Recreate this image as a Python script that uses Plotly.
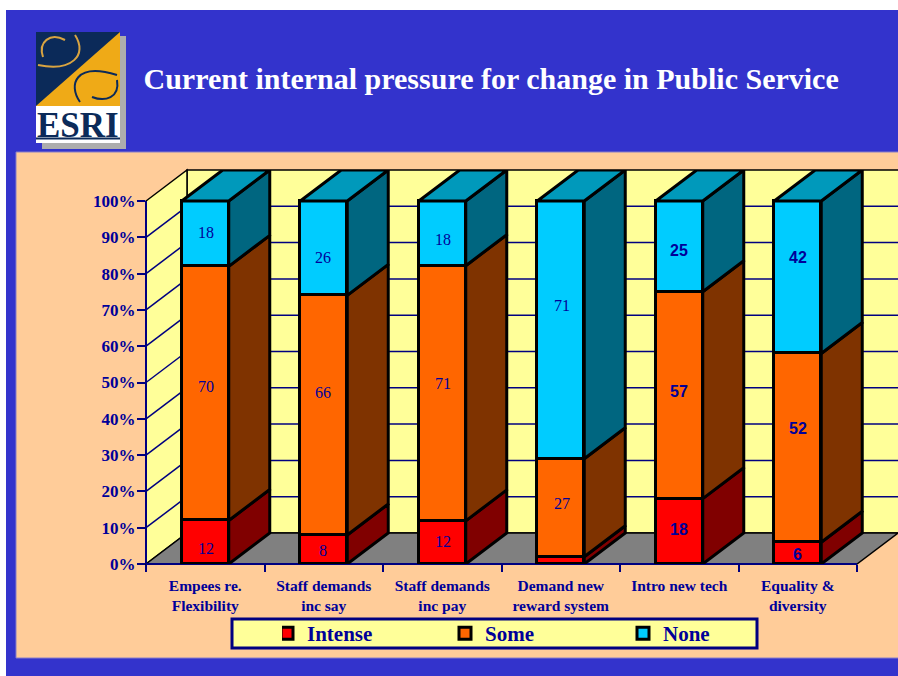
import plotly.graph_objects as go

# ---- data ----
title = "Current internal pressure for change in Public Service"
categories = ["Empees re.<br>Flexibility", "Staff demands<br>inc say", "Staff demands<br>inc pay",
              "Demand new<br>reward system", "Intro new tech", "Equality &<br>diversity"]
intense = [12, 8, 12, 2, 18, 6]
some = [70, 66, 71, 27, 57, 52]
none = [18, 26, 18, 71, 25, 42]
y_ticks = list(range(0, 101, 10))
y_labels = [f"{v}%" for v in y_ticks]

# label placement (axis % height), independent of the values
label_h_intense = [4.4, 3.6, 6.3, -0.3, 9.4, 2.5]
label_h_some = [49, 47.3, 49.6, 16.8, 47.6, 37.2]
label_h_none = [91.2, 84.5, 89.5, 71.3, 86.5, 84.5]
label_dx = [0.01, -0.01, 0.01, 0.01, 0.0, 0.0]

# ---- geometry ----
W, H = 898, 676
L, R, T, B = 146, 898, 170, 564     # plot area in pixels
CAT = 118.5                         # px per category
PCT = 3.63                          # px per percent
DX_PX, DY_PX = 41, 31               # 3-D depth offset in pixels
xmax = (R - L) / CAT
ymax = (B - T) / PCT
dx, dy = DX_PX / CAT, DY_PX / PCT
bar_w = 47 / CAT

NAVY = "#000080"
TXT = "#000099"
SERIF = "Liberation Serif"
SANS = "Liberation Sans"

px = lambda x: (x - L) / (R - L)
py = lambda y: (B - y) / (B - T)


def rect(x0, y0, x1, y1, fill, line=None, lw=0):
    return dict(type="rect", xref="paper", yref="paper", x0=px(x0), x1=px(x1), y0=py(y0), y1=py(y1),
                fillcolor=fill, line=dict(color=line or fill, width=lw), layer="below")


def poly(points, fill, line="#000000", lw=1.5):
    path = "M" + " L".join(f"{px(a):.5f},{py(b):.5f}" for a, b in points) + " Z"
    return dict(type="path", xref="paper", yref="paper", path=path, fillcolor=fill,
                line=dict(color=line, width=lw), layer="below")


def seg(x0, y0, x1, y1, color=NAVY, lw=1.5):
    return dict(type="line", xref="paper", yref="paper", x0=px(x0), x1=px(x1), y0=py(y0), y1=py(y1),
                line=dict(color=color, width=lw), layer="below")


def curve(pts, color, lw=2):
    (a, b), rest = pts[0], pts[1:]
    d = f"M{px(a):.5f},{py(b):.5f} C" + " ".join(f"{px(p):.5f},{py(q):.5f}" for p, q in rest)
    return dict(type="path", xref="paper", yref="paper", path=d, line=dict(color=color, width=lw),
                fillcolor="rgba(0,0,0,0)", layer="below")


GOLD, LOGO_NAVY = "#EFAA17", "#0B2A59"
shapes = [
    rect(6, 10, 898, 676, "#3333CC"),
    rect(16, 152, 903, 658, "#FFCC99", "#8A7FC8", 1),
    # logo
    rect(42, 36, 126, 149, "#ADADAD"),
    rect(36, 32, 120, 106, LOGO_NAVY),
    poly([(120, 32), (120, 106), (36, 106)], GOLD, GOLD, 0),
    rect(36, 106, 120, 143, "#FFFFFF"),
    rect(36, 137.5, 120, 139.5, LOGO_NAVY),
    curve([(43, 57), (38, 42), (50, 32), (65, 40)], "#D9A441"),
    curve([(75, 35), (88, 55), (72, 72), (38, 65)], "#D9A441"),
    curve([(80, 102), (68, 85), (75, 62), (117, 75)], LOGO_NAVY),
    curve([(117, 80), (120, 98), (105, 102), (92, 97)], LOGO_NAVY),
    # walls and floor
    poly([(187, T), (R + 5, T), (R + 5, T + 363), (187, T + 363)], "#FFFF99"),
    poly([(L, B), (L + DX_PX, B - DY_PX), (L + DX_PX, T), (L, B - 363)], "#FFFF99"),
    poly([(L, B), (L + 6 * CAT, B), (L + 6 * CAT + DX_PX, B - DY_PX), (L + DX_PX, B - DY_PX)], "#808080"),
    # legend box
    rect(232, 619, 757, 648, "#FFFF99", NAVY, 3),
]
# gridlines follow the value axis onto the walls
for v in y_ticks[1:-1]:
    y = B - v * PCT
    shapes.append(seg(L, y, L + DX_PX, y - DY_PX))
    shapes.append(seg(L + DX_PX, y - DY_PX, R, y - DY_PX))
# axis lines and category ticks
shapes.append(seg(L, B, L, B - 363, NAVY, 2))
shapes.append(seg(L, B, L + 6 * CAT, B, NAVY, 2))

# ---- normalise to 100 % stacks ----
totals = [a + b + c for a, b, c in zip(intense, some, none)]
p_int = [a / t * 100 for a, t in zip(intense, totals)]
p_som = [a / t * 100 for a, t in zip(some, totals)]
p_non = [a / t * 100 for a, t in zip(none, totals)]
xs = [i + 0.5 for i in range(len(categories))]

fig = go.Figure()
for name, vals, raw, color in [("Intense", p_int, intense, "#FF0000"),
                               ("Some", p_som, some, "#FF6600"),
                               ("None", p_non, none, "#00CCFF")]:
    fig.add_bar(x=xs, y=vals, name=name, width=bar_w, marker=dict(color=color, line=dict(color="#000000", width=3)),
                customdata=raw, hovertemplate=name + ": %{customdata}<extra></extra>", cliponaxis=False)


def side_trace(base, vals, color):
    X, Y = [], []
    for x, b, v in zip(xs, base, vals):
        e = x + bar_w / 2
        X += [e, e + dx, e + dx, e, e, None]
        Y += [b, b + dy, b + v + dy, b + v, b, None]
    fig.add_scatter(x=X, y=Y, mode="lines", fill="toself", fillcolor=color, line=dict(color="#000000", width=3),
                    showlegend=False, hoverinfo="skip", cliponaxis=False)


zero = [0] * len(xs)
b2 = p_int
b3 = [a + b for a, b in zip(p_int, p_som)]
side_trace(zero, p_int, "#800000")
side_trace(b2, p_som, "#7F3300")
side_trace(b3, p_non, "#006680")

X, Y = [], []
for x in xs:
    a, e = x - bar_w / 2, x + bar_w / 2
    X += [a, a + dx, e + dx, e, a, None]
    Y += [100, 100 + dy, 100 + dy, 100, 100, None]
fig.add_scatter(x=X, y=Y, mode="lines", fill="toself", fillcolor="#0099BB", line=dict(color="#000000", width=3),
                showlegend=False, hoverinfo="skip", cliponaxis=False)

annotations = [
    dict(xref="paper", yref="paper", x=px(78), y=py(125), text="ESRI", showarrow=False,
         font=dict(family=SERIF, size=35, color=LOGO_NAVY, weight=700), xanchor="center", yanchor="middle"),
]
for i, x in enumerate(xs):
    bold = i >= 4
    font = dict(family=SANS if bold else SERIF, size=16, color=TXT, weight=700 if bold else 400)
    for val, h in [(intense[i], label_h_intense[i]), (some[i], label_h_some[i]), (none[i], label_h_none[i])]:
        annotations.append(dict(x=x + label_dx[i], y=h, xref="x", yref="y", text=str(val), showarrow=False,
                                font=font, xanchor="center", yanchor="middle"))

fig.update_layout(
    width=W, height=H, autosize=False,
    margin=dict(l=L, r=W - R, t=T, b=H - B, pad=0),
    paper_bgcolor="#FFFFFF", plot_bgcolor="rgba(0,0,0,0)",
    barmode="stack", bargap=0,
    title=dict(text=title, x=143.5 / W, y=1 - 78.5 / H, xref="container", yref="container",
               xanchor="left", yanchor="middle",
               font=dict(family=SERIF, size=30, color="#FFFFFF", weight=700)),
    xaxis=dict(range=[0, xmax], tickmode="array", tickvals=xs, ticktext=categories, showgrid=False, zeroline=False,
               showline=False, ticks="outside", ticklen=7, tickcolor="rgba(0,0,0,0)",
               tickfont=dict(family=SERIF, size=15.5, color=TXT, weight=700),
               minor=dict(tickmode="array", tickvals=list(range(7)), ticks="outside", ticklen=7,
                          tickcolor=NAVY, tickwidth=2, showgrid=False)),
    yaxis=dict(range=[0, ymax], tickmode="array", tickvals=y_ticks, ticktext=y_labels, showgrid=False, zeroline=False,
               showline=False, ticks="outside", ticklen=8, tickcolor=NAVY, tickwidth=2, ticklabelstandoff=-2,
               tickfont=dict(family=SERIF, size=17, color=TXT, weight=700)),
    legend=dict(orientation="h", x=px(282), y=py(613), xanchor="left", yanchor="top", xref="paper", yref="paper",
                bgcolor="rgba(0,0,0,0)", borderwidth=0, indentation=-15,
                entrywidth=148, entrywidthmode="pixels", traceorder="normal",
                font=dict(family=SERIF, size=21, color=TXT, weight=700)),
    shapes=shapes, annotations=annotations,
)
fig.write_html("out.html", config=dict(displayModeBar=False),
               post_script="document.body.style.margin='0';document.documentElement.style.overflow='hidden';")
